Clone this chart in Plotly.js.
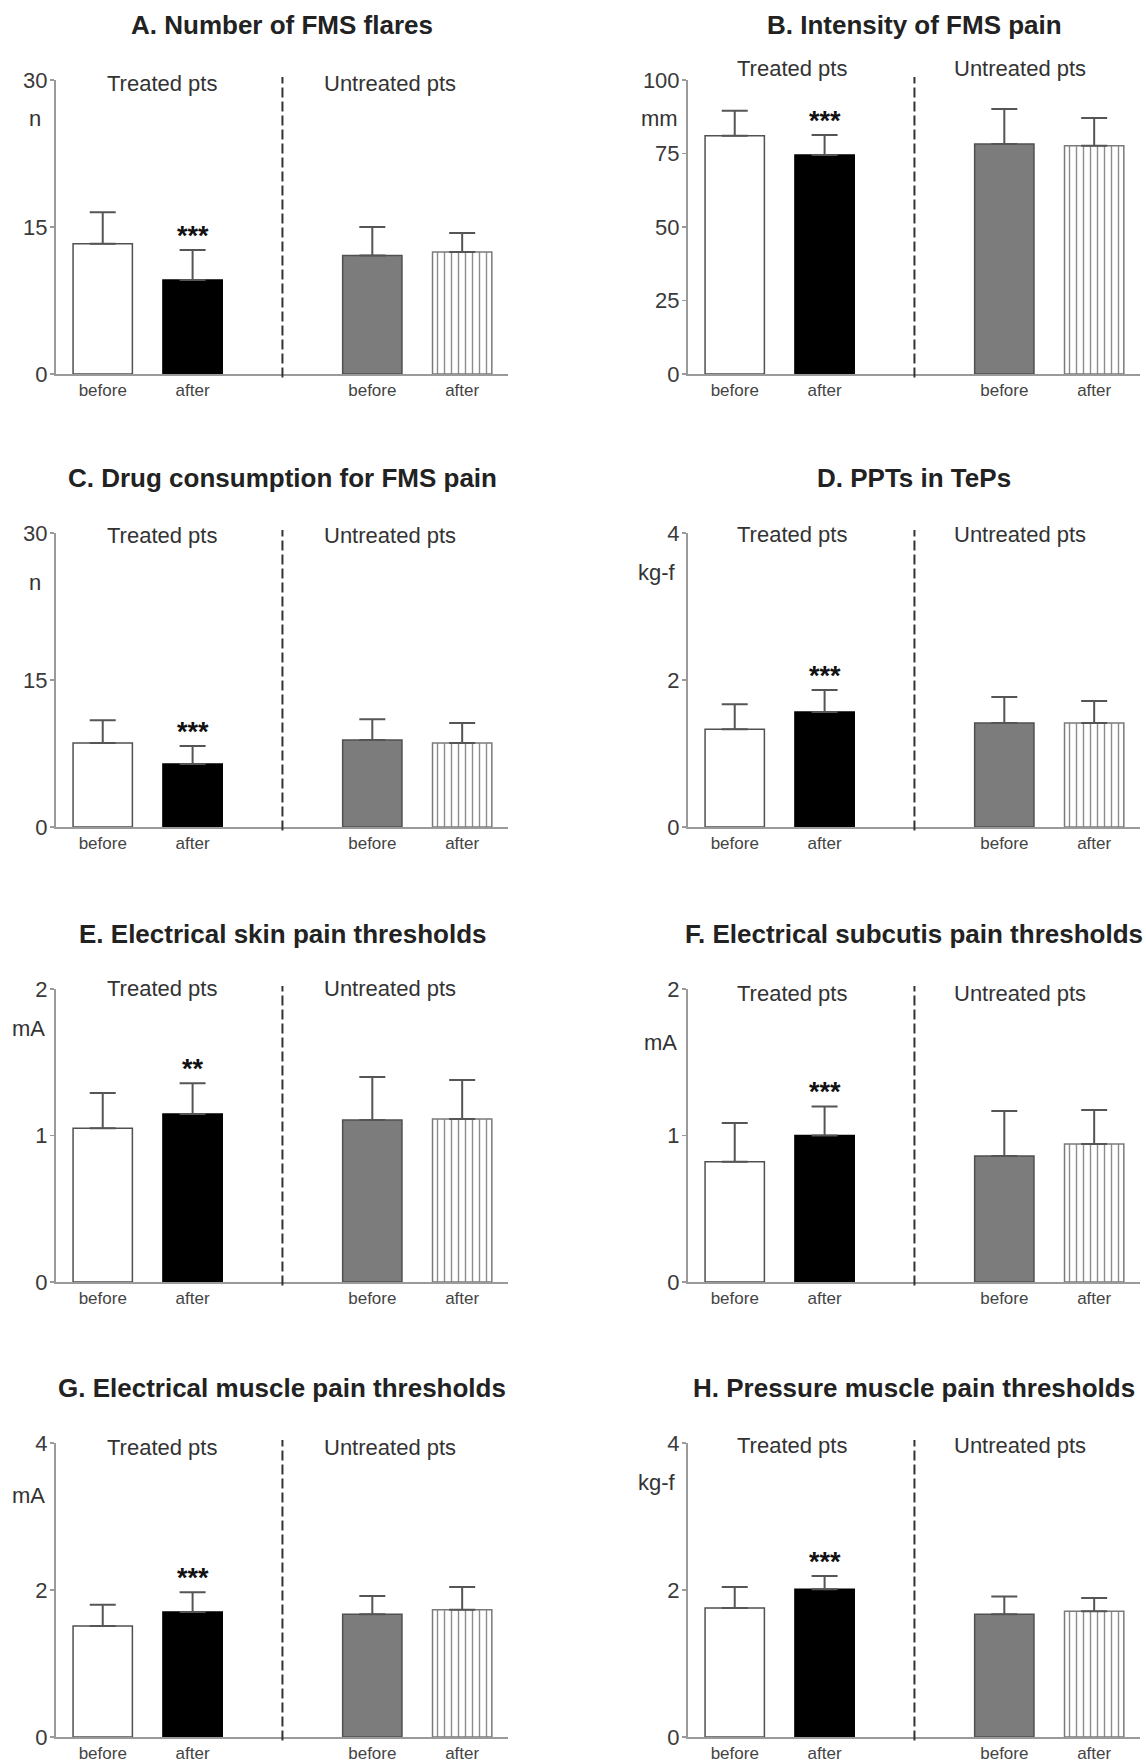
<!DOCTYPE html>
<html>
<head>
<meta charset="utf-8">
<script src="https://cdn.plot.ly/plotly-3.0.1.min.js"></script>
<style>html,body{margin:0;padding:0;background:#fff;}#chart{width:1146px;height:1762px;}</style>
</head>
<body>
<div id="chart"></div>
<script>
// ---- data ----
const groupLabels = ["Treated pts", "Untreated pts"];
const barKeys = ["Treated before", "Treated after", "Untreated before", "Untreated after"];
const tickText = ["before", "after", "before", "after"];
const panelTitles = [
  "A. Number of FMS flares",
  "B. Intensity of FMS pain",
  "C. Drug consumption for FMS pain",
  "D. PPTs in TePs",
  "E. Electrical skin pain thresholds",
  "F. Electrical subcutis pain thresholds",
  "G. Electrical muscle pain thresholds",
  "H. Pressure muscle pain thresholds"
];
const units = ["n", "mm", "n", "kg-f", "mA", "mA", "mA", "kg-f"];
const yMax = [30, 100, 30, 4, 2, 2, 4, 4];
const yTicks = [[0,15,30],[0,25,50,75,100],[0,15,30],[0,2,4],[0,1,2],[0,1,2],[0,2,4],[0,2,4]];
const signif = ["***", "***", "***", "***", "**", "***", "***", "***"];

const meanA = [13.3, 9.6, 12.1, 12.45];   const errA = [3.2, 3.05, 2.9, 1.95];
const meanB = [81.0, 74.5, 78.2, 77.6];   const errB = [8.5, 6.8, 11.9, 9.5];
const meanC = [8.57, 6.43, 8.88, 8.57];   const errC = [2.33, 1.84, 2.12, 2.03];
const meanD = [1.33, 1.565, 1.415, 1.415]; const errD = [0.34, 0.30, 0.354, 0.30];
const meanE = [1.05, 1.147, 1.106, 1.113]; const errE = [0.24, 0.21, 0.294, 0.266];
const meanF = [0.82, 1.0, 0.86, 0.942];   const errF = [0.265, 0.198, 0.307, 0.232];
const meanG = [1.51, 1.70, 1.67, 1.73];   const errG = [0.29, 0.27, 0.25, 0.31];
const meanH = [1.755, 2.01, 1.67, 1.71];  const errH = [0.285, 0.18, 0.24, 0.18];

const means = [meanA, meanB, meanC, meanD, meanE, meanF, meanG, meanH];
const errs  = [errA, errB, errC, errD, errE, errF, errG, errH];

// ---- layout helpers ----
const W = 1146, H = 1762;
const colX = [[56, 508], [688, 1140]];
const rowY = [[80, 374], [533, 827], [989, 1282], [1443, 1737]];
const unitShift = [-38, -38, -49, -39, -39, -53, -52, -39];
const unitXShift = [-13, -8, -13, -10, -9, -9, -9, -10];
const groupShift = [-3, 12, -2, -1, 1, -4, -4, -2];
const groupX = [[0.2345, 0.739], [0.230, 0.7345]];
const gapKey = " ";
const catArray = [barKeys[0], barKeys[1], gapKey, barKeys[2], barKeys[3]];
const FONT = "Liberation Sans, Arial, sans-serif";

const traces = [];
const layout = {
  width: W, height: H,
  margin: {l: 0, r: 0, t: 0, b: 0},
  paper_bgcolor: "#ffffff", plot_bgcolor: "#ffffff",
  showlegend: false, barmode: "overlay",
  font: {family: FONT, color: "#333"},
  annotations: [], shapes: []
};

for (let i = 0; i < 8; i++) {
  const n = i + 1;
  const col = i % 2, row = Math.floor(i / 2);
  const xa = "x" + (n === 1 ? "" : n), ya = "y" + (n === 1 ? "" : n);
  const xk = "xaxis" + (n === 1 ? "" : n), yk = "yaxis" + (n === 1 ? "" : n);
  const [x0, x1] = colX[col];
  const [yt, yb] = rowY[row];
  const errStyle = {type: "data", symmetric: false, color: "#555", thickness: 2, width: 13};

  // solid bars (before/after treated, before untreated)
  traces.push({
    type: "bar",
    x: barKeys.slice(0, 3), y: means[i].slice(0, 3),
    xaxis: xa, yaxis: ya, width: 0.66,
    marker: {
      color: ["#ffffff", "#000000", "#7c7c7c"],
      line: {color: ["#505050", "#000000", "#505050"], width: 1.5}
    },
    error_y: Object.assign({array: errs[i].slice(0, 3), arrayminus: [0, 0, 0]}, errStyle),
    hoverinfo: "skip"
  });
  // striped bar (after, untreated)
  traces.push({
    type: "bar",
    x: barKeys.slice(3), y: means[i].slice(3),
    xaxis: xa, yaxis: ya, width: 0.66,
    marker: {
      color: "#ffffff",
      line: {color: "#7a7a7a", width: 1.5},
      pattern: {shape: "|", size: 7, solidity: 0.2, fgcolor: "#8c8c8c", bgcolor: "#ffffff"}
    },
    error_y: Object.assign({array: errs[i].slice(3), arrayminus: [0]}, errStyle),
    hoverinfo: "skip"
  });

  layout[xk] = {
    domain: [x0 / W, x1 / W], anchor: ya,
    type: "category", categoryarray: catArray, categoryorder: "array",
    range: [-0.52, 4.51],
    tickvals: barKeys, ticktext: tickText,
    tickfont: {size: 17, color: "#444", family: FONT},
    ticks: "", showline: true, linecolor: "#9a9a9a", linewidth: 2,
    showgrid: false, zeroline: false, fixedrange: true
  };
  layout[yk] = {
    domain: [1 - yb / H, 1 - yt / H], anchor: xa,
    range: [0, yMax[i]],
    tickvals: yTicks[i],
    tickfont: {size: 22, color: "#3a3a3a", family: FONT},
    ticks: "outside", ticklen: 4, tickwidth: 1.5, tickcolor: "#9a9a9a",
    ticklabelstandoff: -2,
    showline: true, linecolor: "#9a9a9a", linewidth: 2,
    showgrid: false, zeroline: false, fixedrange: true
  };

  // dashed separator
  layout.shapes.push({
    type: "line", xref: xa, yref: ya + " domain",
    x0: gapKey, x1: gapKey, y0: -0.012, y1: 1.01,
    line: {color: "#333", width: 2, dash: "10px,4px"}
  });

  // panel title
  layout.annotations.push({
    text: "<b>" + panelTitles[i] + "</b>",
    xref: xa + " domain", yref: ya + " domain", x: 0.5, y: 1,
    xanchor: "center", yanchor: "middle", yshift: 55, showarrow: false,
    font: {size: 26, color: "#222", family: FONT}
  });
  // group labels
  groupLabels.forEach((g, k) => {
    layout.annotations.push({
      text: g, xref: xa + " domain", yref: ya + " domain",
      x: groupX[col][k], y: 1, xanchor: "center", yanchor: "middle",
      yshift: groupShift[i], showarrow: false,
      font: {size: 22, color: "#333", family: FONT}
    });
  });
  // unit label
  layout.annotations.push({
    text: units[i], xref: xa + " domain", yref: ya + " domain",
    x: 0, y: 1, xanchor: "right", yanchor: "middle",
    xshift: unitXShift[i], yshift: unitShift[i], showarrow: false,
    font: {size: 22, color: "#333", family: FONT}
  });
  // significance
  layout.annotations.push({
    text: "<b>" + signif[i] + "</b>", xref: xa, yref: ya,
    x: barKeys[1], y: means[i][1] + errs[i][1],
    xanchor: "center", yanchor: "middle", yshift: 14, showarrow: false,
    font: {size: 27, color: "#111", family: FONT}
  });
}

Plotly.newPlot("chart", traces, layout, {staticPlot: true, displayModeBar: false});
</script>
</body>
</html>
